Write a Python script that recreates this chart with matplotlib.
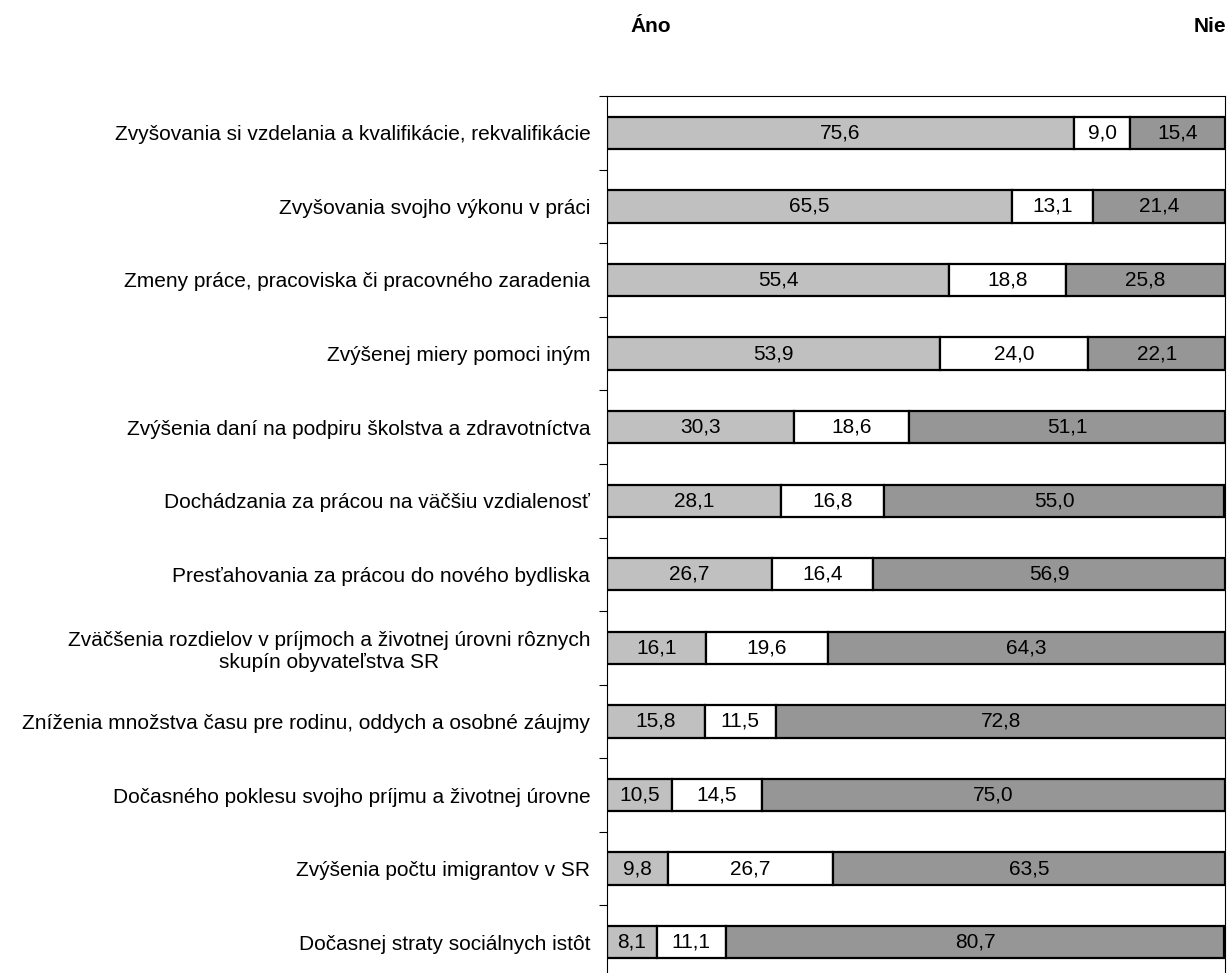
import matplotlib.pyplot as plt
import numpy as np

plt.rcParams['font.family'] = ['Liberation Sans', 'DejaVu Sans']

# kategorie (zhora nadol)
kategorie = [
    'Zvyšovania si vzdelania a kvalifikácie, rekvalifikácie',
    'Zvyšovania svojho výkonu v práci',
    'Zmeny práce, pracoviska či pracovného zaradenia',
    'Zvýšenej miery pomoci iným',
    'Zvýšenia daní na podpiru školstva a zdravotníctva',
    'Dochádzania za prácou na väčšiu vzdialenosť',
    'Presťahovania za prácou do nového bydliska',
    'Zväčšenia rozdielov v príjmoch a životnej úrovni rôznych\nskupín obyvateľstva SR',
    'Zníženia množstva času pre rodinu, oddych a osobné záujmy',
    'Dočasného poklesu svojho príjmu a životnej úrovne',
    'Zvýšenia počtu imigrantov v SR',
    'Dočasnej straty sociálnych istôt',
]
ano = [75.6, 65.5, 55.4, 53.9, 30.3, 28.1, 26.7, 16.1, 15.8, 10.5, 9.8, 8.1]
stred = [9.0, 13.1, 18.8, 24.0, 18.6, 16.8, 16.4, 19.6, 11.5, 14.5, 26.7, 11.1]
nie = [15.4, 21.4, 25.8, 22.1, 51.1, 55.0, 56.9, 64.3, 72.8, 75.0, 63.5, 80.7]

fig = plt.figure(figsize=(12.27, 9.73), dpi=100)
ax = fig.add_axes([607 / 1227, -6 / 973, 618 / 1227, 883 / 973])

y = np.arange(len(kategorie))
a = np.array(ano)
s = np.array(stred)
n = np.array(nie)
vyska = 0.44
fs = 15
serie = [(a, 0, '#C0C0C0'), (s, a, 'white'), (n, a + s, '#969696')]
for hodnoty, zaciatok, farba in serie:
    bars = ax.barh(y, hodnoty, left=zaciatok, height=vyska, color=farba,
                   edgecolor='black', linewidth=1.6)
    for b, v in zip(bars, hodnoty):
        ax.text(b.get_x() + b.get_width() / 2, b.get_y() + b.get_height() / 2,
                f'{v:.1f}'.replace('.', ','), ha='center', va='center', fontsize=fs)

ax.set_xlim(0, 100)
ax.set_ylim(len(kategorie) - 0.5, -0.5)
ax.set_yticks(y)
ax.set_yticklabels(kategorie, fontsize=fs, multialignment='center')
ax.set_yticks(np.arange(len(kategorie) + 1) - 0.5, minor=True)
ax.tick_params(axis='y', which='major', length=0, pad=12)
ax.tick_params(axis='y', which='minor', length=6, width=0.8, direction='out')
ax.set_xticks([])
for sp in ax.spines.values():
    sp.set_linewidth(0.8)

fig.text(651 / 1227, 1 - 27 / 973, 'Áno', fontsize=fs, fontweight='bold', ha='center', va='center')
fig.text(1210 / 1227, 1 - 27 / 973, 'Nie', fontsize=fs, fontweight='bold', ha='center', va='center')

plt.savefig('out.png', dpi=100)
